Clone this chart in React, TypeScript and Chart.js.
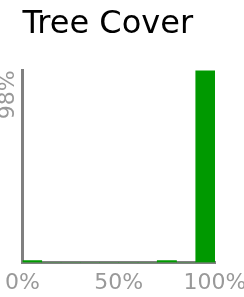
import React, { useEffect, useRef } from "react";
import { Chart, registerables } from "chart.js";

Chart.register(...registerables);

const titleText = "Tree Cover";
const binStarts = [0, 10, 20, 30, 40, 50, 60, 70, 80, 90];
const binValues = [1, 0, 0, 0, 0, 0, 0, 1, 0, 98];
const xTickValues = [0, 50, 100];
const yTickValues = [98];
const yMax = 98;

export default function App() {
  const canvasRef = useRef<HTMLCanvasElement | null>(null);

  useEffect(() => {
    const canvas = canvasRef.current;
    if (!canvas) return;
    const font = "'DejaVu Sans', sans-serif";
    const chart = new Chart(canvas, {
      type: "bar",
      data: {
        datasets: [
          {
            data: binStarts.map((s, i) => ({ x: s + 5, y: binValues[i] })),
            backgroundColor: "#009900",
            borderWidth: 0,
            barPercentage: 1,
            categoryPercentage: 1,
          },
        ],
      },
      options: {
        animation: false,
        responsive: true,
        maintainAspectRatio: false,
        layout: { padding: 0 },
        plugins: {
          legend: { display: false },
          tooltip: { enabled: false },
          title: {
            display: true,
            text: titleText,
            align: "start",
            fullSize: false,
            color: "#000000",
            font: { family: font, size: 32, weight: "normal" },
            padding: { top: 5, bottom: 27 },
          },
        },
        scales: {
          x: {
            type: "linear",
            min: 0,
            max: 100,
            offset: false,
            afterBuildTicks: (scale: any) => {
              scale.ticks = xTickValues.map((v) => ({ value: v }));
            },
            afterFit: (scale: any) => {
              scale.height = 34.5;
              scale.paddingRight = 29;
              scale.paddingLeft = 0;
            },
            ticks: {
              color: "#999999",
              font: { family: font, size: 22 },
              padding: 8,
              maxRotation: 0,
              callback: (v: any) => v + "%",
            },
            grid: { display: false, drawTicks: false, offset: false },
            border: { display: true, color: "#808080", width: 3 },
          },
          y: {
            type: "linear",
            min: 0,
            max: yMax,
            afterBuildTicks: (scale: any) => {
              scale.ticks = yTickValues.map((v) => ({ value: v }));
            },
            afterFit: (scale: any) => {
              scale.width = 22.5;
            },
            ticks: {
              color: "#999999",
              font: { family: font, size: 22 },
              padding: 14,
              minRotation: 90,
              maxRotation: 90,
              callback: (v: any) => v + "%",
            },
            grid: { display: false, drawTicks: false },
            border: { display: true, color: "#808080", width: 3 },
          },
        },
      },
    });
    return () => chart.destroy();
  }, []);

  return (
    <div style={{ position: "fixed", left: 0, top: 0, width: 244, height: 297, background: "#ffffff" }}>
      <canvas ref={canvasRef} />
    </div>
  );
}
